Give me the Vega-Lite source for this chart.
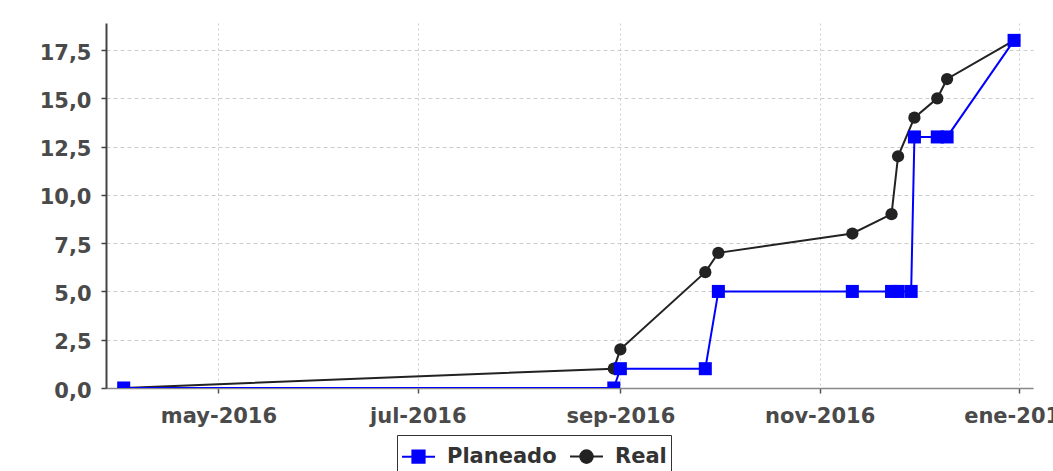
{
  "$schema": "https://vega.github.io/schema/vega-lite/v6.json",
  "width": 927,
  "height": 365,
  "autosize": "none",
  "padding": {"left": 106, "top": 23, "right": 20, "bottom": 83},
  "background": "white",
  "config": {"view": {"stroke": null}, "font": "DejaVu Sans"},
  "data": {
    "values": [
      {"date": "2016-04-02", "value": 0, "series": "Planeado"},
      {"date": "2016-08-30", "value": 0, "series": "Planeado"},
      {"date": "2016-09-01", "value": 1, "series": "Planeado"},
      {"date": "2016-09-27", "value": 1, "series": "Planeado"},
      {"date": "2016-10-01", "value": 5, "series": "Planeado"},
      {"date": "2016-11-11", "value": 5, "series": "Planeado"},
      {"date": "2016-11-23", "value": 5, "series": "Planeado"},
      {"date": "2016-11-25", "value": 5, "series": "Planeado"},
      {"date": "2016-11-29", "value": 5, "series": "Planeado"},
      {"date": "2016-11-30", "value": 13, "series": "Planeado"},
      {"date": "2016-12-07", "value": 13, "series": "Planeado"},
      {"date": "2016-12-10", "value": 13, "series": "Planeado"},
      {"date": "2016-12-30T12:00:00Z", "value": 18, "series": "Planeado"},
      {"date": "2016-04-02", "value": 0, "series": "Real"},
      {"date": "2016-08-30", "value": 1, "series": "Real"},
      {"date": "2016-09-01", "value": 2, "series": "Real"},
      {"date": "2016-09-27", "value": 6, "series": "Real"},
      {"date": "2016-10-01", "value": 7, "series": "Real"},
      {"date": "2016-11-11", "value": 8, "series": "Real"},
      {"date": "2016-11-23", "value": 9, "series": "Real"},
      {"date": "2016-11-25", "value": 12, "series": "Real"},
      {"date": "2016-11-30", "value": 14, "series": "Real"},
      {"date": "2016-12-07", "value": 15, "series": "Real"},
      {"date": "2016-12-10", "value": 16, "series": "Real"},
      {"date": "2016-12-30T12:00:00Z", "value": 18, "series": "Real"}
    ]
  },
  "encoding": {
    "x": {
      "field": "date",
      "type": "temporal",
      "scale": {
        "type": "utc",
        "domain": [
          {"year": 2016, "month": 3, "date": 27, "hours": 14, "utc": true},
          {"year": 2017, "month": 1, "date": 5, "hours": 7, "utc": true}
        ]
      },
      "axis": {
        "title": null,
        "values": [
          {"year": 2016, "month": 5, "date": 1, "utc": true},
          {"year": 2016, "month": 7, "date": 1, "utc": true},
          {"year": 2016, "month": 9, "date": 1, "utc": true},
          {"year": 2016, "month": 11, "date": 1, "utc": true},
          {"year": 2017, "month": 1, "date": 1, "utc": true}
        ],
        "labelExpr": "['ene','feb','mar','abr','may','jun','jul','ago','sep','oct','nov','dic'][utcmonth(datum.value)] + '-' + utcyear(datum.value)",
        "grid": true,
        "gridDash": [2, 3],
        "gridColor": "#cccccc",
        "gridWidth": 1,
        "domainColor": "#888888",
        "domainWidth": 1.5,
        "tickColor": "#555555",
        "tickSize": 5,
        "tickWidth": 1.5,
        "labelFont": "DejaVu Sans",
        "labelFontWeight": "bold",
        "labelFontSize": 21,
        "labelColor": "#4a4a4a",
        "labelPadding": 12,
        "labelFlush": false,
        "labelOverlap": false,
        "labelBound": false
      }
    },
    "y": {
      "field": "value",
      "type": "quantitative",
      "scale": {"domain": [0, 18.9], "nice": false, "zero": false},
      "axis": {
        "title": null,
        "values": [0, 2.5, 5, 7.5, 10, 12.5, 15, 17.5],
        "labelExpr": "replace(format(datum.value, '.1f'), '.', ',')",
        "grid": true,
        "gridDash": [4, 3],
        "gridColor": "#cccccc",
        "gridWidth": 1,
        "domainColor": "#444444",
        "domainWidth": 2,
        "tickColor": "#444444",
        "tickSize": 5,
        "tickWidth": 1.5,
        "labelFont": "DejaVu Sans",
        "labelFontWeight": "bold",
        "labelFontSize": 21,
        "labelColor": "#4a4a4a",
        "labelPadding": 10,
        "labelOffset": 3,
        "labelOverlap": false
      }
    },
    "color": {
      "field": "series",
      "type": "nominal",
      "scale": {"domain": ["Planeado", "Real"], "range": ["#0000ff", "#222222"]},
      "legend": {
        "title": null,
        "orient": "none",
        "legendX": 291,
        "legendY": 412,
        "direction": "horizontal",
        "strokeColor": "#333333",
        "padding": 4,
        "symbolSize": 1089,
        "symbolStrokeWidth": 2,
        "labelFont": "DejaVu Sans",
        "labelFontWeight": "bold",
        "labelFontSize": 21,
        "labelColor": "#333333",
        "labelOffset": 11,
        "columnPadding": 9,
        "encode": {
          "symbols": {
            "update": {
              "shape": {"signal": "datum.value === 'Planeado' ? 'M-1,0H1M-0.37,-0.37H0.37V0.37H-0.37Z' : 'M-1,0H1M0.38,0A0.38,0.38 0 1,1 -0.38,0A0.38,0.38 0 1,1 0.38,0Z'"},
              "fill": {"scale": "color", "field": "value"},
              "stroke": {"scale": "color", "field": "value"},
              "strokeWidth": {"value": 2},
              "size": {"value": 1089},
              "opacity": {"value": 1}
            }
          }
        }
      }
    }
  },
  "layer": [
    {
      "transform": [{"filter": "datum.series === 'Real'"}],
      "mark": {"type": "line", "strokeWidth": 2, "clip": true}
    },
    {
      "transform": [{"filter": "datum.series === 'Planeado'"}],
      "mark": {"type": "line", "strokeWidth": 2, "clip": true}
    },
    {
      "transform": [{"filter": "datum.series === 'Real'"}],
      "mark": {"type": "point", "shape": "circle", "filled": true, "size": 150, "opacity": 1, "clip": true}
    },
    {
      "transform": [{"filter": "datum.series === 'Planeado'"}],
      "mark": {"type": "point", "shape": "square", "filled": true, "size": 170, "opacity": 1, "clip": true}
    }
  ]
}
